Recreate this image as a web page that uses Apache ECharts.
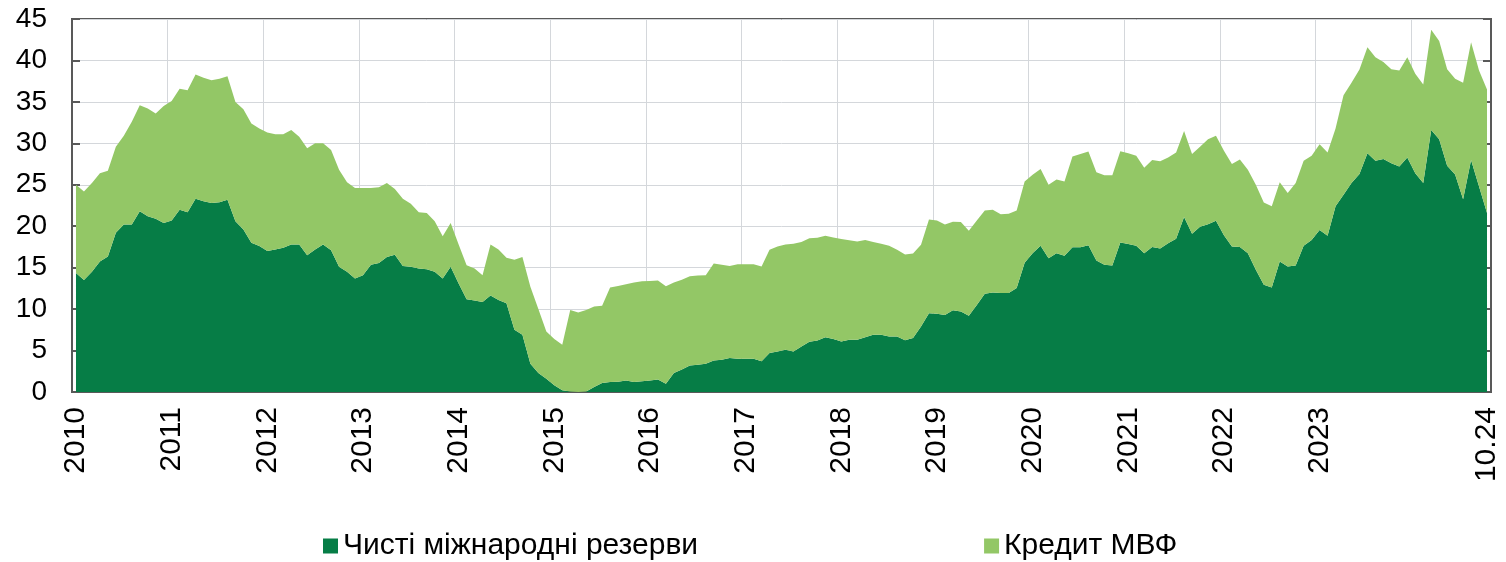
<!DOCTYPE html>
<html>
<head>
<meta charset="utf-8">
<script src="https://cdn.jsdelivr.net/npm/echarts@6/dist/echarts.min.js"></script>
<style>
  html, body { margin: 0; padding: 0; background: #fff; }
  #chart { width: 1506px; height: 562px; }
</style>
</head>
<body>
<div id="chart"></div>
<script>
// місяці 01.2010 ... 10.2024
var categories = [];
for (var y = 2010; y <= 2024; y++) {
    for (var m = 1; m <= 12; m++) {
        if (y === 2024 && m > 10) break;
        categories.push((m < 10 ? '0' + m : '' + m) + '.' + y);
    }
}

// підписи осі X
var tickLabels = {
    '01.2010': '2010', '01.2011': '2011', '01.2012': '2012', '01.2013': '2013',
    '01.2014': '2014', '01.2015': '2015', '01.2016': '2016', '01.2017': '2017',
    '01.2018': '2018', '01.2019': '2019', '01.2020': '2020', '01.2021': '2021',
    '01.2022': '2022', '01.2023': '2023', '10.2024': '10.24'
};

var seriesNames = ['Чисті міжнародні резерви', 'Кредит МВФ'];

// чисті міжнародні резерви, млрд дол.
var netReserves = [
    14.35, 13.5, 14.5, 15.75, 16.35, 19.2, 20.2, 20.2, 21.8, 21.2, 20.9, 20.4,
    20.7, 22.0, 21.7, 23.3, 23.0, 22.8, 22.9, 23.2, 20.6, 19.6, 18.0, 17.6,
    17.0, 17.2, 17.4, 17.8, 17.8, 16.5, 17.2, 17.8, 17.1, 15.1, 14.5, 13.7,
    14.1, 15.35, 15.55, 16.3, 16.55, 15.2, 15.1, 14.9, 14.8, 14.5, 13.7, 15.1,
    13.1, 11.2, 11.05, 10.85, 11.65, 11.1, 10.7, 7.5, 6.9, 3.4, 2.3, 1.6,
    0.8, 0.2, 0.05, 0.0, 0.05, 0.6, 1.1, 1.2, 1.25, 1.4, 1.2, 1.3,
    1.4, 1.5, 1.0, 2.3, 2.7, 3.2, 3.3, 3.4, 3.8, 3.9, 4.1, 4.0,
    4.0, 4.0, 3.7, 4.7, 4.9, 5.1, 4.9, 5.5, 6.05, 6.2, 6.6, 6.4,
    6.1, 6.3, 6.3, 6.6, 6.9, 6.9, 6.7, 6.7, 6.25, 6.5, 7.9, 9.5,
    9.45, 9.3, 9.85, 9.7, 9.2, 10.5, 11.85, 12.0, 11.95, 11.95, 12.55, 15.6,
    16.75, 17.65, 16.15, 16.75, 16.45, 17.45, 17.45, 17.7, 15.85, 15.35, 15.25, 18.05,
    17.85, 17.65, 16.75, 17.5, 17.3, 17.95, 18.5, 21.1, 19.1, 19.95, 20.25, 20.65,
    18.9, 17.55, 17.5, 16.75, 14.75, 12.95, 12.6, 15.75, 15.15, 15.25, 17.65, 18.35,
    19.55, 18.85, 22.4, 23.8, 25.2, 26.3, 28.8, 27.9, 28.1, 27.6, 27.2, 28.3,
    26.4, 25.2, 31.6, 30.5, 27.3, 26.25, 23.25, 28.0, 24.8, 21.6
];

// кредит МВФ, млрд дол.
var imfCredit = [
    10.65, 10.7, 10.7, 10.65, 10.35, 10.4, 10.7, 12.4, 12.8, 13.0, 12.7, 14.1,
    14.4, 14.6, 14.7, 15.0, 14.9, 14.8, 14.9, 14.9, 14.4, 14.5, 14.4, 14.2,
    14.3, 13.9, 13.7, 13.8, 13.0, 12.9, 12.8, 12.2, 12.1, 11.7, 10.8, 10.9,
    10.5, 9.25, 9.15, 8.9, 7.95, 8.1, 7.6, 6.8, 6.8, 6.1, 5.1, 5.3,
    4.7, 4.1, 3.85, 3.25, 6.15, 6.1, 5.5, 8.45, 9.4, 9.3, 7.7, 5.7,
    5.6, 5.5, 9.85, 9.6, 9.85, 9.7, 9.3, 11.4, 11.55, 11.6, 12.0, 12.05,
    12.0, 11.95, 11.75, 10.9, 10.85, 10.75, 10.75, 10.7, 11.7, 11.45, 11.1, 11.4,
    11.4, 11.4, 11.45, 12.45, 12.65, 12.7, 13.0, 12.6, 12.5, 12.4, 12.25, 12.25,
    12.35, 12.0, 11.85, 11.75, 11.2, 11.0, 10.95, 10.45, 10.35, 10.2, 9.85, 11.3,
    11.25, 10.9, 10.7, 10.8, 10.25, 10.2, 10.05, 10.0, 9.5, 9.55, 9.35, 9.8,
    9.45, 9.25, 8.85, 8.9, 8.95, 10.95, 11.25, 11.3, 10.65, 10.8, 10.9, 11.0,
    10.95, 10.85, 10.3, 10.5, 10.55, 10.35, 10.4, 10.4, 9.6, 9.65, 10.25, 10.25,
    10.2, 9.95, 10.55, 10.05, 10.25, 9.9, 9.8, 9.55, 8.85, 9.95, 10.25, 10.15,
    10.35, 10.05, 9.4, 12.0, 12.1, 12.6, 12.8, 12.5, 11.7, 11.35, 11.6, 12.1,
    12.0, 11.9, 12.1, 11.85, 11.65, 11.55, 14.05, 14.2, 14.0, 14.9
];

var axisColor = '#595959';
var gridColor = '#d4d7db';
var fontName = '"Liberation Sans", Arial, sans-serif';

function yearTick(idx) {
    return idx % 12 === 0;
}

var option = {
    animation: false,
    backgroundColor: '#fff',
    textStyle: { fontFamily: fontName },
    grid: {
        left: 72, right: 15, top: 19, bottom: 170,
        show: true, borderColor: axisColor, borderWidth: 2
    },
    legend: {
        left: 323,
        top: 529,
        padding: 0,
        itemWidth: 15,
        itemHeight: 15,
        itemGap: 286,
        icon: 'rect',
        textStyle: { fontSize: 30, color: '#000', fontFamily: fontName, lineHeight: 34 },
        data: seriesNames
    },
    xAxis: {
        type: 'category',
        boundaryGap: true,
        data: categories,
        axisLine: { lineStyle: { color: axisColor, width: 2 } },
        axisTick: { show: true, inside: true, length: 8, interval: yearTick,
                    lineStyle: { color: axisColor, width: 2 } },
        splitLine: { show: true, interval: yearTick, lineStyle: { color: gridColor, width: 1 } },
        axisLabel: {
            rotate: 90,
            margin: 15,
            fontSize: 30,
            color: '#000',
            fontFamily: fontName,
            interval: function (idx, val) { return tickLabels[val] !== undefined; },
            formatter: function (val) { return tickLabels[val] || ''; }
        }
    },
    yAxis: [{
        type: 'value',
        min: 0, max: 45, interval: 5,
        axisLine: { show: true, lineStyle: { color: axisColor, width: 2 } },
        axisTick: { show: true, inside: true, length: 8, lineStyle: { color: axisColor, width: 2 } },
        splitLine: { show: true, lineStyle: { color: gridColor, width: 1 } },
        axisLabel: { fontSize: 28, color: '#000', margin: 25, fontFamily: fontName }
    }, {
        type: 'value',
        position: 'right',
        min: 0, max: 45, interval: 5,
        axisLine: { show: true, lineStyle: { color: axisColor, width: 2 } },
        axisTick: { show: true, inside: true, length: 8, lineStyle: { color: axisColor, width: 2 } },
        splitLine: { show: false },
        axisLabel: { show: false }
    }],
    series: [{
        name: seriesNames[0],
        type: 'line',
        stack: 'total',
        symbol: 'none',
        lineStyle: { width: 0 },
        itemStyle: { color: '#067d46' },
        areaStyle: { color: '#067d46', opacity: 1 },
        data: netReserves
    }, {
        name: seriesNames[1],
        type: 'line',
        stack: 'total',
        symbol: 'none',
        lineStyle: { width: 0 },
        itemStyle: { color: '#93c766' },
        areaStyle: { color: '#93c766', opacity: 1 },
        data: imfCredit
    }]
};

var chart = echarts.init(document.getElementById('chart'));
chart.setOption(option);
</script>
</body>
</html>
